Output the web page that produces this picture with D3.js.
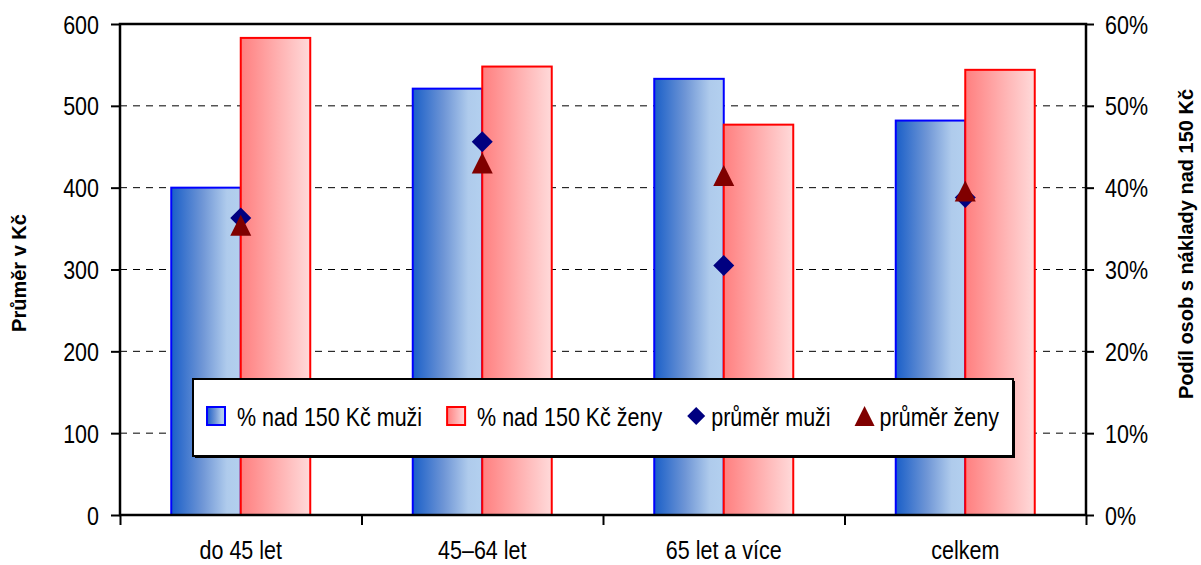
<!DOCTYPE html>
<html><head><meta charset="utf-8">
<script src="https://cdn.jsdelivr.net/npm/d3@7"></script>
<style>
html,body{margin:0;padding:0;background:#fff;}
text{font-family:"Liberation Sans",Arial,sans-serif;fill:#000;}
</style></head>
<body>
<svg id="c" width="1201" height="565"></svg>
<script>
const categories = ["do 45 let", "45–64 let", "65 let a více", "celkem"];
const pctMuzi = [0.400, 0.521, 0.533, 0.482];
const pctZeny = [0.583, 0.548, 0.477, 0.544];
const avgMuzi = [363, 456, 305, 388];
const avgZeny = [354, 430, 415, 396];
const leftTicks = [0, 100, 200, 300, 400, 500, 600];
const rightTicks = [0, 0.1, 0.2, 0.3, 0.4, 0.5, 0.6];
const seriesNames = ["% nad 150 Kč muži", "% nad 150 Kč ženy", "průměr muži", "průměr ženy"];
const leftTitle = "Průměr v Kč";
const rightTitle = "Podíl osob s náklady nad 150 Kč";

const svg = d3.select("#c");
const L = 120, R = 1086, T = 24, B = 515;
const SX = 0.86, FS = 25;

const x = d3.scaleBand().domain(categories).range([L, R]).paddingInner(0).paddingOuter(0);
const x1 = d3.scaleBand().domain(["m", "z"]).range([0, x.bandwidth()]).paddingInner(0).paddingOuter(0.7375);
const yL = d3.scaleLinear().domain([0, 600]).range([B, T]);
const yR = d3.scaleLinear().domain([0, 0.6]).range([B, T]);

const defs = svg.append("defs");
function grad(id, stops) {
  const g = defs.append("linearGradient").attr("id", id).attr("x1", "0").attr("x2", "1").attr("y1", "0").attr("y2", "0");
  stops.forEach(s => g.append("stop").attr("offset", s[0]).attr("stop-color", s[1]));
}
grad("gBlue", [[0, "#1a5fc8"], [0.45, "#6f96d6"], [0.8, "#afcbec"], [1, "#b3d0ef"]]);
grad("gRed", [[0, "#ff7f7f"], [0.5, "#ffadad"], [1, "#ffdada"]]);

// gridlines
svg.append("g").selectAll("line").data(leftTicks.filter(d => d > 0 && d < 600)).join("line")
  .attr("x1", L).attr("x2", R).attr("y1", d => yL(d)).attr("y2", d => yL(d))
  .attr("stroke", "#000").attr("stroke-width", 1).attr("stroke-dasharray", "7,6");

// bars
const gBars = svg.append("g");
categories.forEach((c, i) => {
  gBars.append("rect").attr("x", x(c) + x1("m")).attr("width", x1.bandwidth())
    .attr("y", yR(pctMuzi[i])).attr("height", B - yR(pctMuzi[i]))
    .attr("fill", "url(#gBlue)").attr("stroke", "#0000ff").attr("stroke-width", 2);
});
categories.forEach((c, i) => {
  gBars.append("rect").attr("x", x(c) + x1("z")).attr("width", x1.bandwidth())
    .attr("y", yR(pctZeny[i])).attr("height", B - yR(pctZeny[i]))
    .attr("fill", "url(#gRed)").attr("stroke", "#ff0000").attr("stroke-width", 2);
});

// custom symbols
const diamond = { draw(ctx, size) { const r = Math.sqrt(size) / 2; ctx.moveTo(0, -r); ctx.lineTo(r, 0); ctx.lineTo(0, r); ctx.lineTo(-r, 0); ctx.closePath(); } };
const tri = { draw(ctx, size) { const r = Math.sqrt(size) / 2; ctx.moveTo(0, -r); ctx.lineTo(r, r); ctx.lineTo(-r, r); ctx.closePath(); } };

const gM = svg.append("g");
gM.selectAll("path.dm").data(avgMuzi).join("path").attr("class", "dm")
  .attr("d", d3.symbol(diamond, 21 * 21))
  .attr("transform", (d, i) => `translate(${x(categories[i]) + x.bandwidth() / 2},${yL(d)})`)
  .attr("fill", "#000080");
gM.selectAll("path.tz").data(avgZeny).join("path").attr("class", "tz")
  .attr("d", d3.symbol(tri, 21 * 21))
  .attr("transform", (d, i) => `translate(${x(categories[i]) + x.bandwidth() / 2},${yL(d)})`)
  .attr("fill", "#800000");

// axes
function styleAxis(g) {
  g.selectAll(".domain").remove();
  g.selectAll(".tick line").attr("stroke", "#000").attr("stroke-width", 2);
}
const axL = svg.append("g").attr("transform", `translate(${L},0)`)
  .call(d3.axisLeft(yL).tickValues(leftTicks).tickSize(9).tickFormat(d3.format("d")));
styleAxis(axL);
axL.selectAll(".tick text").each(function (d) {
  d3.select(this).attr("x", null).attr("dy", null).attr("text-anchor", "end")
    .attr("transform", `translate(-21,9) scale(${SX},1)`).attr("font-size", FS).attr("fill", "#000");
});
const axR = svg.append("g").attr("transform", `translate(${R},0)`)
  .call(d3.axisRight(yR).tickValues(rightTicks).tickSize(8).tickFormat(d3.format(".0%")));
styleAxis(axR);
axR.selectAll(".tick text").each(function (d) {
  d3.select(this).attr("x", null).attr("dy", null).attr("text-anchor", "start")
    .attr("transform", `translate(19,9) scale(${SX},1)`).attr("font-size", FS).attr("fill", "#000");
});
const axB = svg.append("g").attr("transform", `translate(0,${B})`)
  .call(d3.axisBottom(x).tickSize(0));
styleAxis(axB);
axB.selectAll(".tick text").each(function (d) {
  d3.select(this).attr("y", null).attr("dy", null).attr("text-anchor", "middle")
    .attr("transform", `translate(0,44) scale(${SX},1)`).attr("font-size", FS).attr("fill", "#000");
});
const bTicks = d3.scaleLinear().domain([0, categories.length]).range([L, R]);
const axB2 = svg.append("g").attr("transform", `translate(0,${B})`)
  .call(d3.axisBottom(bTicks).ticks(categories.length).tickSize(10).tickFormat(""));
styleAxis(axB2);

// frame
svg.append("rect").attr("x", L).attr("y", T).attr("width", R - L).attr("height", B - T)
  .attr("fill", "none").attr("stroke", "#000").attr("stroke-width", 2.5);

// titles
svg.append("text").text(leftTitle).attr("font-size", 20).attr("font-weight", "bold")
  .attr("text-anchor", "middle").attr("transform", `translate(26,273) rotate(-90)`);
svg.append("text").text(rightTitle).attr("font-size", 20).attr("font-weight", "bold")
  .attr("text-anchor", "middle").attr("transform", `translate(1193,244) rotate(-90)`);

// legend
const lg = svg.append("g");
lg.append("rect").attr("x", 195).attr("y", 381).attr("width", 820).attr("height", 77).attr("fill", "#000");
lg.append("rect").attr("x", 193).attr("y", 379).attr("width", 820).attr("height", 77)
  .attr("fill", "#fff").attr("stroke", "#000").attr("stroke-width", 2);
let cx = 207;
const ly = 416;
seriesNames.forEach((name, i) => {
  if (i === 0 || i === 1) {
    lg.append("rect").attr("x", cx).attr("y", ly - 9).attr("width", 18).attr("height", 18)
      .attr("fill", i === 0 ? "url(#gBlue)" : "url(#gRed)")
      .attr("stroke", i === 0 ? "#0000ff" : "#ff0000").attr("stroke-width", 2);
  } else {
    lg.append("path").attr("d", d3.symbol(i === 2 ? diamond : tri, i === 2 ? 18 * 18 : 20 * 20))
      .attr("transform", `translate(${cx + 9},${ly})`).attr("fill", i === 2 ? "#000080" : "#800000");
  }
  const tx = cx + (i < 2 ? 30 : 24);
  const t = lg.append("text").text(name).attr("font-size", FS)
    .attr("transform", `translate(${tx},${ly + 10}) scale(${SX},1)`);
  const w = t.node().getComputedTextLength() * SX;
  cx = tx + w + 25;
});
</script>
</body></html>
